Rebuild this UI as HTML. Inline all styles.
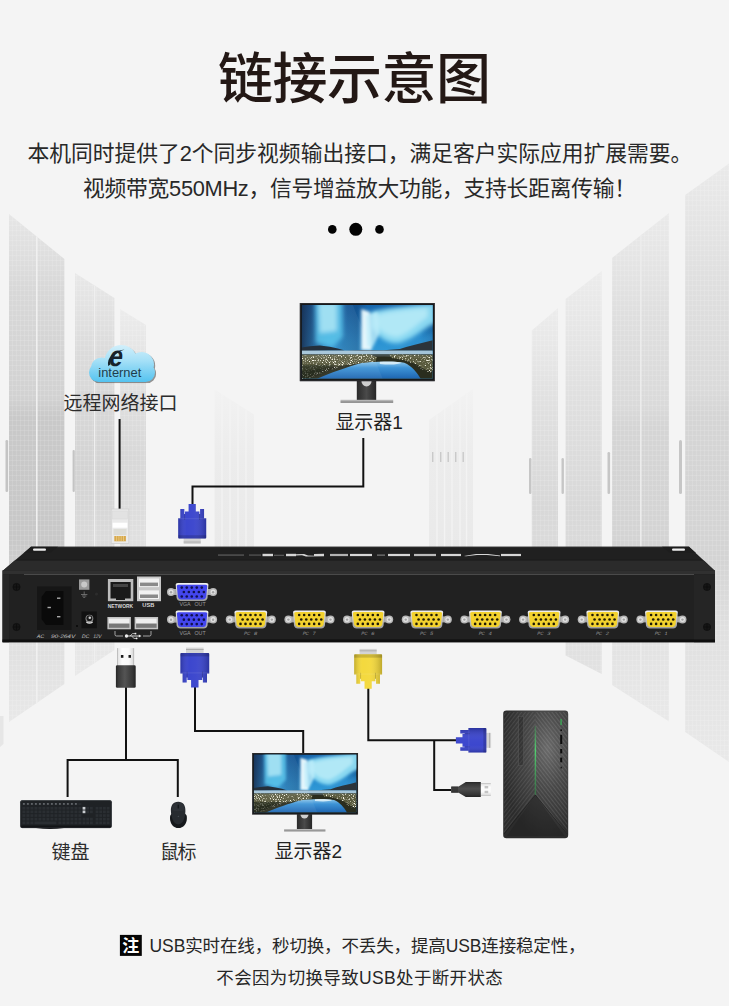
<!DOCTYPE html>
<html lang="zh-CN">
<head>
<meta charset="utf-8">
<title>链接示意图</title>
<style>
html,body{margin:0;padding:0;background:#f4f4f4;}
body{width:729px;height:1006px;overflow:hidden;font-family:"Liberation Sans",sans-serif;}
svg{display:block;}
svg text{font-family:"Liberation Sans","Noto Sans CJK SC",sans-serif;}
</style>
</head>
<body>
<svg width="729" height="1006" viewBox="0 0 729 1006">

<defs>
  <linearGradient id="bgfadeTop" x1="0" y1="0" x2="0" y2="1">
    <stop offset="0" stop-color="#f5f5f5" stop-opacity="1"/>
    <stop offset="1" stop-color="#f5f5f5" stop-opacity="0"/>
  </linearGradient>
  <linearGradient id="bgfadeBot" x1="0" y1="0" x2="0" y2="1">
    <stop offset="0" stop-color="#f5f5f5" stop-opacity="0"/>
    <stop offset="1" stop-color="#f5f5f5" stop-opacity="1"/>
  </linearGradient>
  <linearGradient id="rackL" x1="0" y1="0" x2="1" y2="0">
    <stop offset="0" stop-color="#dcdcdc"/><stop offset="1" stop-color="#e6e6e6"/>
  </linearGradient>
  <linearGradient id="sky" x1="0" y1="0" x2="1" y2="1">
    <stop offset="0" stop-color="#0a3566"/><stop offset="0.5" stop-color="#15639a"/><stop offset="1" stop-color="#2a8cc0"/>
  </linearGradient>
  <linearGradient id="lake" x1="0" y1="0" x2="0" y2="1">
    <stop offset="0" stop-color="#9fd3ee"/><stop offset="1" stop-color="#1f6fb4"/>
  </linearGradient>
  <linearGradient id="cloudg" x1="0" y1="0" x2="0" y2="1">
    <stop offset="0" stop-color="#dff4fc"/><stop offset="0.45" stop-color="#a5e0f7"/><stop offset="1" stop-color="#45bdee"/>
  </linearGradient>
  <linearGradient id="silver" x1="0" y1="0" x2="0" y2="1">
    <stop offset="0" stop-color="#f2f2f2"/><stop offset="0.5" stop-color="#c9c9c9"/><stop offset="1" stop-color="#9a9a9a"/>
  </linearGradient>
  <linearGradient id="neck" x1="0" y1="0" x2="1" y2="0">
    <stop offset="0" stop-color="#2a2a2a"/><stop offset="0.5" stop-color="#4a4a4a"/><stop offset="1" stop-color="#252525"/>
  </linearGradient>
  <radialGradient id="towerg" cx="0.68" cy="0.3" r="0.7">
    <stop offset="0" stop-color="#6a6a6a"/><stop offset="0.45" stop-color="#484848"/><stop offset="1" stop-color="#2c2c2c"/>
  </radialGradient>
  <linearGradient id="greenl" x1="0" y1="0" x2="0" y2="1">
    <stop offset="0" stop-color="#3fae5a" stop-opacity="0.3"/><stop offset="0.35" stop-color="#52d070"/><stop offset="1" stop-color="#2f8f48" stop-opacity="0.5"/>
  </linearGradient>
  <linearGradient id="usbbody" x1="0" y1="0" x2="1" y2="0">
    <stop offset="0" stop-color="#262626"/><stop offset="0.12" stop-color="#3a3a3a"/><stop offset="0.45" stop-color="#545454"/><stop offset="0.85" stop-color="#363636"/><stop offset="1" stop-color="#222"/>
  </linearGradient>
  <linearGradient id="usbbodyH" x1="0" y1="0" x2="0" y2="1">
    <stop offset="0" stop-color="#262626"/><stop offset="0.12" stop-color="#383838"/><stop offset="0.45" stop-color="#4e4e4e"/><stop offset="0.85" stop-color="#343434"/><stop offset="1" stop-color="#222"/>
  </linearGradient>
  <filter id="blur2" x="-20%" y="-20%" width="140%" height="140%"><feGaussianBlur stdDeviation="2.2"/></filter>
  <filter id="blur15" x="-30%" y="-30%" width="160%" height="160%"><feGaussianBlur stdDeviation="1.5"/></filter>
  <filter id="blur1" x="-20%" y="-20%" width="140%" height="140%"><feGaussianBlur stdDeviation="1"/></filter>
  <filter id="blur05" x="-20%" y="-20%" width="140%" height="140%"><feGaussianBlur stdDeviation="0.5"/></filter>
  <clipPath id="scrclip"><rect x="2" y="2" width="131" height="73.4"/></clipPath>

  <!-- monitor symbol: 135 x 100 -->
  <linearGradient id="skyv" x1="0" y1="0" x2="0" y2="1">
    <stop offset="0" stop-color="#1766ad"/><stop offset="0.5" stop-color="#2a92d2"/><stop offset="1" stop-color="#46ace0"/>
  </linearGradient>
  <linearGradient id="skyh" x1="0" y1="0" x2="1" y2="0">
    <stop offset="0" stop-color="#071c3e" stop-opacity="0.85"/><stop offset="0.1" stop-color="#0a2a58" stop-opacity="0.5"/><stop offset="0.2" stop-color="#0a2a58" stop-opacity="0"/>
    <stop offset="0.32" stop-color="#0a2a58" stop-opacity="0.25"/><stop offset="0.42" stop-color="#0a2a58" stop-opacity="0.35"/><stop offset="0.5" stop-color="#0a2a58" stop-opacity="0"/>
    <stop offset="0.9" stop-color="#0a2a58" stop-opacity="0"/><stop offset="1" stop-color="#0a2a58" stop-opacity="0.3"/>
  </linearGradient>
  <linearGradient id="lake2" x1="0" y1="0" x2="0" y2="1">
    <stop offset="0" stop-color="#8cc6ea"/><stop offset="0.35" stop-color="#3d93d6"/><stop offset="1" stop-color="#1d64b0"/>
  </linearGradient>
  <filter id="speck" x="0" y="0" width="100%" height="100%">
    <feTurbulence type="fractalNoise" baseFrequency="0.75" numOctaves="2" seed="7" result="n"/>
    <feColorMatrix in="n" type="matrix" values="0 0 0 0 0.95  0 0 0 0 0.94  0 0 0 0 0.82  3.4 3.4 0 0 -3.52"/>
    <feComposite in2="SourceGraphic" operator="in"/>
  </filter>
  <g id="monitor">
    <rect x="57" y="77" width="19.4" height="20" fill="url(#neck)"/>
    <path d="M61.6 77.8 A5.1 5.6 0 0 0 71.8 77.8 Z" fill="#cfcfcf"/>
    <rect x="40.7" y="96.8" width="52.7" height="1.5" fill="#b5b5b5"/>
    <rect x="40.7" y="98.3" width="52.7" height="1.5" fill="#7d7d7d"/>
    <rect x="0" y="0" width="135" height="78.2" fill="#17181a"/>
    <rect x="0.4" y="0.4" width="134.2" height="77.4" fill="none" stroke="#3a3a3c" stroke-width="0.6"/>
    <g clip-path="url(#scrclip)">
      <rect x="2" y="2" width="131" height="74" fill="url(#skyv)"/>
      <rect x="2" y="2" width="131" height="47" fill="url(#skyh)"/>
      <g filter="url(#blur2)">
        <path d="M15 -2 L43 -2 L43 34 L33 44 L16 40Z" fill="#4fbfe8" opacity="0.9"/>
        <path d="M19 0 L37 0 L37 28 L20 30Z" fill="#a8e4f6" opacity="0.85"/>
        <path d="M71 9 C90 4 112 2 136 0 L136 20 C124 24 118 34 100 40 C88 42 78 34 71 24Z" fill="#8edcf3" opacity="0.95"/>
        <path d="M76 12 C92 8 110 6 128 5 L128 14 C118 20 110 30 98 34 C88 34 80 28 76 22Z" fill="#d2f5fc" opacity="0.55"/>
        <path d="M100 44 L133 30 L133 46Z" fill="#2f8fce" opacity="0.5"/>
      </g>
      <g filter="url(#blur15)">
        <path d="M61.5 6 L70 9 L72 47 L61.5 47Z" fill="#f0fdff" opacity="0.95"/>
        <path d="M66 12 L78 9 L80 30 L73 44 L67 44Z" fill="#bfeefa" opacity="0.8"/>
      </g>
      <path d="M2 44.5 L10 43.2 L20 42.4 L30 43.8 L38 45.6 L45 47.6 L2 47.8Z" fill="#17232e"/>
      <path d="M45 47.8 L62 47 L84 47.3 L100 46 L106.4 44 L116 41.4 L126 39 L133 37.3 L133 47.8Z" fill="#2c343a"/>
      <rect x="2" y="47.6" width="131" height="4" fill="#a3c4d8"/>
      <rect x="2" y="51.3" width="131" height="25" fill="#2a2d1e"/>
      <path d="M2 51.3 H133 V55 L84 53.5 L40 54 L2 56Z" fill="#5a686a" opacity="0.6"/>
      <path d="M16.8 76 C30 70 48 64 61.6 60 C70 58.6 96 58.4 104.5 59.7 C112 63 117 69 121 76Z" fill="url(#lake2)"/>
      <path d="M80 58.8 C88 58.2 98 58.6 102 59.8 C98 61.8 90 62 80 61Z" fill="#e4f4fb" opacity="0.85" filter="url(#blur05)"/>
      <g fill="#6a6b4a" opacity="0.75" filter="url(#blur05)">
        <path d="M2 52 L70 51.6 L77 54 L76 58.2 L58 60.6 L40 63 L20 66 L2 68Z"/>
        <path d="M89.5 51.6 L133 52 L133 68 L126 67 L116 61 L104 57 L92 55Z"/>
      </g>
      <g filter="url(#speck)">
        <path d="M2 52 L70 51.6 L77 54 L76 58.2 L58 60.6 L40 64 L22 70 L8 76 L2 76Z" fill="#fff"/>
        <path d="M89.5 51.6 L133 52 L133 70 L126 69 L116 62 L104 57 L92 55Z" fill="#fff"/>
      </g>
      <path d="M2 62 L38 62 L8 76 L2 76Z" fill="#181b10" opacity="0.7" filter="url(#blur1)"/>
      <path d="M2 2 L53 2 L83 76 L2 76Z" fill="#fff" opacity="0.06"/>
    </g>
  </g>

  <!-- VGA plug, pointing down (cable at top). box 30 x 41, origin at top-left; centre x=15 -->
  <linearGradient id="plugsh" x1="0" y1="0" x2="1" y2="0">
    <stop offset="0" stop-color="#000" stop-opacity="0.2"/><stop offset="0.3" stop-color="#fff" stop-opacity="0.03"/><stop offset="0.55" stop-color="#fff" stop-opacity="0.05"/><stop offset="1" stop-color="#000" stop-opacity="0.22"/>
  </linearGradient>
  <g id="vgaplug">
    <rect x="6.2" y="34" width="17.6" height="6" fill="#d4d4d4"/>
    <rect x="6.2" y="37.6" width="17.6" height="0.9" fill="#a8a8a8"/>
    <path d="M11.3 0 H18.7 V7.5 H22.4 V10 H23.1 V5 H27.2 V14.2 H29.4 V33.5 Q29.4 34.6 28.3 34.6 H1.7 Q0.6 34.6 0.6 33.5 V14.2 H2.8 V5 H6.9 V10 H7.6 V7.5 H11.3Z" fill="currentColor"/>
    <path d="M11.3 0 H18.7 V7.5 H22.4 V10 H23.1 V5 H27.2 V14.2 H29.4 V33.5 Q29.4 34.6 28.3 34.6 H1.7 Q0.6 34.6 0.6 33.5 V14.2 H2.8 V5 H6.9 V10 H7.6 V7.5 H11.3Z" fill="url(#plugsh)"/>
    <rect x="6.9" y="10" width="0.8" height="6" fill="#000" opacity="0.2"/>
    <rect x="22.3" y="10" width="0.8" height="6" fill="#000" opacity="0.2"/>
    <rect x="0.6" y="31.2" width="28.8" height="3.4" fill="#000" opacity="0.16"/>
    <rect x="0.6" y="14.2" width="28.8" height="1" fill="#fff" opacity="0.1"/>
  </g>
</defs>

<rect width="729" height="1006" fill="#f4f4f4"/>

<g id="bgracks">
  <defs>
    <linearGradient id="rk" x1="0" y1="0" x2="0" y2="1">
      <stop offset="0" stop-color="#eaeaea"/><stop offset="0.2" stop-color="#dfdfdf"/><stop offset="0.38" stop-color="#dadada"/><stop offset="0.42" stop-color="#d5d5d5"/><stop offset="0.66" stop-color="#d4d4d4"/><stop offset="0.78" stop-color="#e0e0e0"/><stop offset="1" stop-color="#e9e9e9"/>
    </linearGradient>
    <linearGradient id="rkA" x1="0" y1="0" x2="0" y2="1">
      <stop offset="0" stop-color="#e6e6e6"/><stop offset="0.15" stop-color="#d8d8d8"/><stop offset="0.36" stop-color="#d2d2d2"/><stop offset="0.4" stop-color="#c9c9c9"/><stop offset="0.64" stop-color="#c8c8c8"/><stop offset="0.78" stop-color="#dcdcdc"/><stop offset="1" stop-color="#e8e8e8"/>
    </linearGradient>
    <linearGradient id="rkB" x1="0" y1="0" x2="0" y2="1">
      <stop offset="0" stop-color="#e8e8e8"/><stop offset="0.2" stop-color="#dbdbdb"/><stop offset="0.5" stop-color="#d3d3d3"/><stop offset="0.68" stop-color="#dcdcdc"/><stop offset="1" stop-color="#e9e9e9"/>
    </linearGradient>
    <linearGradient id="rk2" x1="0" y1="0" x2="0" y2="1">
      <stop offset="0" stop-color="#ececec"/><stop offset="0.3" stop-color="#e0e0e0"/><stop offset="0.6" stop-color="#d8d8d8"/><stop offset="1" stop-color="#e2e2e2"/>
    </linearGradient>
    <linearGradient id="rk3" x1="0" y1="0" x2="0" y2="1">
      <stop offset="0" stop-color="#f2f2f2"/><stop offset="0.4" stop-color="#ececec"/><stop offset="1" stop-color="#e9e9e9"/>
    </linearGradient>
    <pattern id="grid" width="4" height="5" patternUnits="userSpaceOnUse">
      <rect width="4" height="5" fill="none"/>
      <rect x="0" y="0" width="4" height="0.9" fill="#fff" opacity="0.12"/>
      <rect x="0" y="0" width="0.9" height="5" fill="#fff" opacity="0.12"/>
    </pattern>
  </defs>
  <!-- left racks -->
  <path d="M0 716 H3.5 V744 L0 747Z" fill="#e6e6e6"/>
  <path d="M9 214 L64.4 259 V684 L9 722Z" fill="url(#rkA)"/>
  <path d="M9 214 L64.4 259 V684 L9 722Z" fill="url(#grid)"/>
  <path d="M36 236 L37.6 237.3 V702.6 L36 703.6Z" fill="#f0f0f0"/>
  <path d="M75 273 L114.4 298 V650 L75 676Z" fill="url(#rkB)"/>
  <path d="M75 273 L114.4 298 V650 L75 676Z" fill="url(#grid)"/>
  <path d="M94 285 L95.2 286 V662.6 L94 663.6Z" fill="#efefef"/>
  <path d="M120 309 L146 325 V560 H120Z" fill="url(#rk2)"/>
  <path d="M120 309 L146 325 V560 H120Z" fill="url(#grid)"/>
  <path d="M214.6 389.5 L254 414.6 V560 H214.6Z" fill="url(#rk3)"/>
  <path d="M222 394 V560 M230 399 V560 M238 404.5 V560 M246 409.5 V560" stroke="#f3f3f3" stroke-width="1.3"/>
  <g fill="#c4c4c4"><rect x="5.5" y="440" width="2.6" height="52" rx="1.2"/><rect x="72.6" y="450" width="2.2" height="42" rx="1.1"/></g>
  <!-- right racks -->
  <path d="M685.2 195 L729 163.5 V762 L685.2 732Z" fill="url(#rk)"/>
  <path d="M685.2 195 L729 163.5 V762 L685.2 732Z" fill="url(#grid)"/>
  <path d="M612 258 L669 213 V721.5 L612 685Z" fill="url(#rk)"/>
  <path d="M612 258 L669 213 V721.5 L612 685Z" fill="url(#grid)"/>
  <path d="M640 236 L641.6 234.8 V704 L640 703Z" fill="#ececec"/>
  <path d="M565.6 299 L601.7 271 V674 L565.6 655.5Z" fill="url(#rk2)"/>
  <path d="M565.6 299 L601.7 271 V674 L565.6 655.5Z" fill="url(#grid)"/>
  <path d="M531.8 330.5 L558 308 V642 H531.8Z" fill="url(#rk2)"/>
  <path d="M531.8 330.5 L558 308 V642 H531.8Z" fill="url(#grid)"/>
  <path d="M429 420 L473 389 V560 H429Z" fill="url(#rk3)"/>
  <path d="M437 414.5 V560 M444.5 409 V560 M452 404 V560 M460 398 V560 M466.5 393.5 V560" stroke="#f3f3f3" stroke-width="1.3"/>
  <g fill="#c6c6c6"><rect x="529" y="458" width="2.4" height="36" rx="1.2"/><rect x="561.5" y="458" width="2.4" height="36" rx="1.2"/><rect x="607.5" y="452" width="2.6" height="42" rx="1.3"/><rect x="679" y="440" width="3" height="54" rx="1.5"/></g>
  <g fill="#c9c9c9"><rect x="432" y="452" width="1.4" height="10"/><rect x="440" y="452" width="1.4" height="10"/><rect x="447.5" y="452" width="1.4" height="10"/><rect x="455" y="452" width="1.4" height="10"/><rect x="462.5" y="452" width="1.4" height="10"/></g>
</g>

<text x="218" y="97.6" font-size="55" font-weight="500" fill="#231815" textLength="273" lengthAdjust="spacing">链接示意图</text>
<text x="27.4" y="161.4" font-size="21.8" fill="#282828" textLength="665" lengthAdjust="spacing">本机同时提供了2个同步视频输出接口，满足客户实际应用扩展需要。</text>
<text x="83" y="196" font-size="21.8" fill="#282828" textLength="553" lengthAdjust="spacing">视频带宽550MHz，信号增益放大功能，支持长距离传输！</text>
<circle cx="332.3" cy="229.4" r="4.3" fill="#030303"/><circle cx="355.8" cy="229.3" r="6.5" fill="#030303"/><circle cx="379.5" cy="229.4" r="4.3" fill="#030303"/>
<g fill="none" stroke="#111" stroke-width="2" stroke-linejoin="miter">
  <path d="M119.6 419 V510"/>
  <path d="M363.3 438 V486.5 H192.5 V505"/>
  <path d="M126 687 V760"/>
  <path d="M67.6 797 V760 H177.8 V797"/>
  <path d="M195 687 V731 H303.2 V753"/>
  <path d="M368.3 688 V740.3 H457"/>
  <path d="M434.2 740.3 V790 H452"/>
</g>
<g id="cloud">
  <defs><clipPath id="cloudclip"><rect x="89" y="363" width="66" height="19" rx="9.5"/><circle cx="101.5" cy="368" r="10.5"/><circle cx="121" cy="361.5" r="16.5"/><circle cx="141.5" cy="364.5" r="12.5"/></clipPath>
  <clipPath id="cloudclip2"><rect x="89" y="363" width="66" height="19" rx="9.5"/><circle cx="101.5" cy="368" r="10.5"/><circle cx="121" cy="361.5" r="16.5"/><circle cx="141.5" cy="364.5" r="12.5"/></clipPath></defs>
  <g transform="translate(1.2,1.2)" opacity="0.55" filter="url(#blur05)"><rect x="86" y="340" width="74" height="46" fill="#444" clip-path="url(#cloudclip2)"/></g>
  <rect x="86" y="340" width="74" height="46" fill="url(#cloudg)" clip-path="url(#cloudclip)"/>
</g>
<text x="98.3" y="376.5" font-size="13" fill="#1d3d4c" textLength="43" lengthAdjust="spacingAndGlyphs">internet</text>
<g id="ie">
  <path d="M108.2 366 C106.5 358 114 350.6 124.5 349.6 C118 351.5 111 357 110.4 364.5Z" fill="#17232b"/>
  <text transform="translate(107.50,365.80) skewX(-10)" x="0.6" y="0" font-size="29" font-weight="bold" fill="#17232b" textLength="13.6" lengthAdjust="spacingAndGlyphs">e</text>
</g>
<text x="63.6" y="410.3" font-size="19" fill="#2c2c2c" textLength="114" lengthAdjust="spacing">远程网络接口</text>
<g id="rj45">
  <rect x="111.2" y="509" width="17.6" height="34.6" fill="#eaeaea" stroke="#d0d0d0" stroke-width="0.8"/>
  <rect x="112.5" y="511" width="15" height="8" fill="#e2e2e2" stroke="#d6d6d6" stroke-width="0.5"/>
  <rect x="112.6" y="522.7" width="14.8" height="5" fill="#fff"/>
  <rect x="113.5" y="529" width="13" height="6" fill="#dcdcd6"/>
  <rect x="114.3" y="536" width="11.6" height="5.3" fill="#d7a84a"/>
  <path d="M116.6 536 V541.3 M118.9 536 V541.3 M121.2 536 V541.3 M123.5 536 V541.3" stroke="#f0d9a0" stroke-width="0.6"/>
</g>
<use href="#vgaplug" transform="translate(177.62,504) scale(0.972,1)" color="#3641cc"/>
<use href="#vgaplug" transform="translate(179.8,687.6) scale(1,-1)" color="#3641cc"/>
<use href="#vgaplug" transform="translate(353.6,688.7) scale(0.969,-0.995)" color="#f4d838"/>
<use href="#vgaplug" transform="translate(455.9,753.1) rotate(-90) scale(0.85,0.88)" color="#3641cc"/>
<use href="#monitor" transform="translate(299.8,303)"/>
<use href="#monitor" transform="translate(252.2,753) scale(0.784,0.786)"/>
<text x="335.4" y="429.4" font-size="19" fill="#222" textLength="67.5" lengthAdjust="spacing">显示器1</text>
<text x="274.6" y="858.4" font-size="19" fill="#222" textLength="67.5" lengthAdjust="spacing">显示器2</text>
<text x="51.4" y="859" font-size="19" fill="#2c2c2c" textLength="38" lengthAdjust="spacing">键盘</text>
<text x="160" y="859" font-size="19" fill="#2c2c2c" textLength="36.5" lengthAdjust="spacing">鼠标</text>
<g id="usbv">
  <defs><linearGradient id="usbmetal" x1="0" y1="0" x2="1" y2="0"><stop offset="0" stop-color="#a9a9a9"/><stop offset="0.08" stop-color="#e6e6e6"/><stop offset="0.3" stop-color="#fdfdfd"/><stop offset="0.7" stop-color="#fafafa"/><stop offset="0.92" stop-color="#dedede"/><stop offset="1" stop-color="#a9a9a9"/></linearGradient>
  <linearGradient id="usbmetalV" x1="0" y1="0" x2="0" y2="1"><stop offset="0" stop-color="#a9a9a9"/><stop offset="0.08" stop-color="#e6e6e6"/><stop offset="0.3" stop-color="#fdfdfd"/><stop offset="0.7" stop-color="#fafafa"/><stop offset="0.92" stop-color="#dedede"/><stop offset="1" stop-color="#a9a9a9"/></linearGradient></defs>
  <rect x="117" y="648.1" width="17.1" height="18" fill="url(#usbmetal)"/>
  <rect x="120.9" y="655" width="2.5" height="2.8" fill="#1c1c1c"/><rect x="128.5" y="655" width="2.5" height="2.8" fill="#1c1c1c"/>
  <rect x="115.9" y="665.3" width="19.8" height="22.4" rx="1.3" fill="url(#usbbody)"/>
</g>
<g id="usbh">
  <rect x="480.4" y="783.4" width="10.4" height="12.2" fill="url(#usbmetalV)"/>
  <rect x="484.6" y="786" width="3.6" height="2.4" fill="#c4c4c4"/><rect x="484.6" y="790.8" width="3.6" height="2.4" fill="#c4c4c4"/>
  <path d="M451 786.4 H458.6 L465.8 782.1 H480.8 V796.9 H465.8 L458.6 792.8 H451Z" fill="url(#usbbodyH)"/>
  <path d="M453 786.4 V792.8 M455 786.4 V792.8 M457 786.4 V792.8" stroke="#1a1a1a" stroke-width="0.7"/>
</g>
<g id="kbd">
<rect x="20.2" y="800.2" width="91.6" height="27.8" rx="2" fill="#1f2225"/>
<rect x="20.5" y="800.5" width="91" height="27.2" rx="1.8" fill="none" stroke="#3b3f44" stroke-width="0.7"/>
<rect x="21" y="825.6" width="90" height="2" rx="1" fill="#121416"/>
<path d="M36 828 Q50 830 64 828Z" fill="#17191b"/>
<rect x="22.4" y="803.2" width="3.0" height="1.7" fill="#2a2e32"/>
<rect x="23.1" y="803.5" width="1.6" height="0.9" fill="#c9ccd0" opacity="0.8"/>
<rect x="26.4" y="803.2" width="3.0" height="1.7" fill="#2a2e32"/>
<rect x="27.1" y="803.5" width="1.6" height="0.9" fill="#c9ccd0" opacity="0.8"/>
<rect x="30.4" y="803.2" width="3.0" height="1.7" fill="#2a2e32"/>
<rect x="31.1" y="803.5" width="1.6" height="0.9" fill="#c9ccd0" opacity="0.8"/>
<rect x="34.4" y="803.2" width="3.0" height="1.7" fill="#2a2e32"/>
<rect x="35.1" y="803.5" width="1.6" height="0.9" fill="#c9ccd0" opacity="0.8"/>
<rect x="38.4" y="803.2" width="3.0" height="1.7" fill="#2a2e32"/>
<rect x="39.1" y="803.5" width="1.6" height="0.9" fill="#c9ccd0" opacity="0.8"/>
<rect x="42.4" y="803.2" width="3.0" height="1.7" fill="#2a2e32"/>
<rect x="43.1" y="803.5" width="1.6" height="0.9" fill="#c9ccd0" opacity="0.8"/>
<rect x="46.4" y="803.2" width="3.0" height="1.7" fill="#2a2e32"/>
<rect x="47.1" y="803.5" width="1.6" height="0.9" fill="#c9ccd0" opacity="0.8"/>
<rect x="50.4" y="803.2" width="3.0" height="1.7" fill="#2a2e32"/>
<rect x="51.1" y="803.5" width="1.6" height="0.9" fill="#c9ccd0" opacity="0.8"/>
<rect x="54.4" y="803.2" width="3.0" height="1.7" fill="#2a2e32"/>
<rect x="55.1" y="803.5" width="1.6" height="0.9" fill="#c9ccd0" opacity="0.8"/>
<rect x="58.4" y="803.2" width="3.0" height="1.7" fill="#2a2e32"/>
<rect x="59.1" y="803.5" width="1.6" height="0.9" fill="#c9ccd0" opacity="0.8"/>
<rect x="62.4" y="803.2" width="3.0" height="1.7" fill="#2a2e32"/>
<rect x="63.1" y="803.5" width="1.6" height="0.9" fill="#c9ccd0" opacity="0.8"/>
<rect x="66.4" y="803.2" width="3.0" height="1.7" fill="#2a2e32"/>
<rect x="67.1" y="803.5" width="1.6" height="0.9" fill="#c9ccd0" opacity="0.8"/>
<rect x="70.4" y="803.2" width="3.0" height="1.7" fill="#2a2e32"/>
<rect x="71.1" y="803.5" width="1.6" height="0.9" fill="#c9ccd0" opacity="0.8"/>
<rect x="74.4" y="803.2" width="3.0" height="1.7" fill="#2a2e32"/>
<rect x="75.1" y="803.5" width="1.6" height="0.9" fill="#c9ccd0" opacity="0.8"/>
<rect x="78.4" y="803.2" width="3.0" height="1.7" fill="#2a2e32"/>
<rect x="22.4" y="806.9" width="3.0" height="2.7" fill="#2a2e32"/>
<rect x="26.4" y="806.9" width="3.0" height="2.7" fill="#2a2e32"/>
<rect x="30.4" y="806.9" width="3.0" height="2.7" fill="#2a2e32"/>
<rect x="34.4" y="806.9" width="3.0" height="2.7" fill="#2a2e32"/>
<rect x="38.4" y="806.9" width="3.0" height="2.7" fill="#2a2e32"/>
<rect x="42.4" y="806.9" width="3.0" height="2.7" fill="#2a2e32"/>
<rect x="46.4" y="806.9" width="3.0" height="2.7" fill="#2a2e32"/>
<rect x="50.4" y="806.9" width="3.0" height="2.7" fill="#2a2e32"/>
<rect x="54.4" y="806.9" width="3.0" height="2.7" fill="#2a2e32"/>
<rect x="58.4" y="806.9" width="3.0" height="2.7" fill="#2a2e32"/>
<rect x="62.4" y="806.9" width="3.0" height="2.7" fill="#2a2e32"/>
<rect x="66.4" y="806.9" width="3.0" height="2.7" fill="#2a2e32"/>
<rect x="70.4" y="806.9" width="3.0" height="2.7" fill="#2a2e32"/>
<rect x="74.4" y="806.9" width="3.0" height="2.7" fill="#2a2e32"/>
<rect x="78.4" y="806.9" width="3.0" height="2.7" fill="#2a2e32"/>
<rect x="82.6" y="806.9" width="2.8" height="2.7" fill="#c9ccd0"/>
<rect x="86.3" y="806.9" width="2.8" height="2.7" fill="#2a2e32"/>
<rect x="90.0" y="806.9" width="2.8" height="2.7" fill="#2a2e32"/>
<rect x="95.6" y="806.9" width="2.8" height="2.7" fill="#2a2e32"/>
<rect x="99.3" y="806.9" width="2.8" height="2.7" fill="#2a2e32"/>
<rect x="103.0" y="806.9" width="2.8" height="2.7" fill="#2a2e32"/>
<rect x="106.7" y="806.9" width="2.8" height="2.7" fill="#2a2e32"/>
<rect x="22.4" y="810.5" width="3.0" height="2.7" fill="#2a2e32"/>
<rect x="26.4" y="810.5" width="3.0" height="2.7" fill="#2a2e32"/>
<rect x="30.4" y="810.5" width="3.0" height="2.7" fill="#2a2e32"/>
<rect x="34.4" y="810.5" width="3.0" height="2.7" fill="#2a2e32"/>
<rect x="38.4" y="810.5" width="3.0" height="2.7" fill="#2a2e32"/>
<rect x="42.4" y="810.5" width="3.0" height="2.7" fill="#2a2e32"/>
<rect x="46.4" y="810.5" width="3.0" height="2.7" fill="#2a2e32"/>
<rect x="50.4" y="810.5" width="3.0" height="2.7" fill="#2a2e32"/>
<rect x="54.4" y="810.5" width="3.0" height="2.7" fill="#2a2e32"/>
<rect x="58.4" y="810.5" width="3.0" height="2.7" fill="#2a2e32"/>
<rect x="62.4" y="810.5" width="3.0" height="2.7" fill="#2a2e32"/>
<rect x="66.4" y="810.5" width="3.0" height="2.7" fill="#2a2e32"/>
<rect x="70.4" y="810.5" width="3.0" height="2.7" fill="#2a2e32"/>
<rect x="74.4" y="810.5" width="3.0" height="2.7" fill="#2a2e32"/>
<rect x="78.4" y="810.5" width="3.0" height="2.7" fill="#2a2e32"/>
<rect x="82.6" y="810.5" width="2.8" height="2.7" fill="#c9ccd0"/>
<rect x="86.3" y="810.5" width="2.8" height="2.7" fill="#2a2e32"/>
<rect x="90.0" y="810.5" width="2.8" height="2.7" fill="#2a2e32"/>
<rect x="95.6" y="810.5" width="2.8" height="2.7" fill="#2a2e32"/>
<rect x="99.3" y="810.5" width="2.8" height="2.7" fill="#2a2e32"/>
<rect x="103.0" y="810.5" width="2.8" height="2.7" fill="#2a2e32"/>
<rect x="106.7" y="810.5" width="2.8" height="2.7" fill="#2a2e32"/>
<rect x="22.4" y="814.2" width="3.0" height="2.7" fill="#2a2e32"/>
<rect x="26.4" y="814.2" width="3.0" height="2.7" fill="#2a2e32"/>
<rect x="30.4" y="814.2" width="3.0" height="2.7" fill="#2a2e32"/>
<rect x="34.4" y="814.2" width="3.0" height="2.7" fill="#2a2e32"/>
<rect x="38.4" y="814.2" width="3.0" height="2.7" fill="#2a2e32"/>
<rect x="42.4" y="814.2" width="3.0" height="2.7" fill="#2a2e32"/>
<rect x="46.4" y="814.2" width="3.0" height="2.7" fill="#2a2e32"/>
<rect x="50.4" y="814.2" width="3.0" height="2.7" fill="#2a2e32"/>
<rect x="54.4" y="814.2" width="3.0" height="2.7" fill="#2a2e32"/>
<rect x="58.4" y="814.2" width="3.0" height="2.7" fill="#2a2e32"/>
<rect x="62.4" y="814.2" width="3.0" height="2.7" fill="#2a2e32"/>
<rect x="66.4" y="814.2" width="3.0" height="2.7" fill="#2a2e32"/>
<rect x="70.4" y="814.2" width="3.0" height="2.7" fill="#2a2e32"/>
<rect x="74.4" y="814.2" width="3.0" height="2.7" fill="#2a2e32"/>
<rect x="78.4" y="814.2" width="3.0" height="2.7" fill="#2a2e32"/>
<rect x="95.6" y="814.2" width="2.8" height="2.7" fill="#2a2e32"/>
<rect x="99.3" y="814.2" width="2.8" height="2.7" fill="#2a2e32"/>
<rect x="103.0" y="814.2" width="2.8" height="2.7" fill="#2a2e32"/>
<rect x="106.7" y="814.2" width="2.8" height="2.7" fill="#2a2e32"/>
<rect x="22.4" y="817.8" width="3.0" height="2.7" fill="#2a2e32"/>
<rect x="26.4" y="817.8" width="3.0" height="2.7" fill="#2a2e32"/>
<rect x="30.4" y="817.8" width="3.0" height="2.7" fill="#2a2e32"/>
<rect x="34.4" y="817.8" width="3.0" height="2.7" fill="#2a2e32"/>
<rect x="38.4" y="817.8" width="3.0" height="2.7" fill="#2a2e32"/>
<rect x="42.4" y="817.8" width="3.0" height="2.7" fill="#2a2e32"/>
<rect x="46.4" y="817.8" width="3.0" height="2.7" fill="#2a2e32"/>
<rect x="50.4" y="817.8" width="3.0" height="2.7" fill="#2a2e32"/>
<rect x="54.4" y="817.8" width="3.0" height="2.7" fill="#2a2e32"/>
<rect x="58.4" y="817.8" width="3.0" height="2.7" fill="#2a2e32"/>
<rect x="62.4" y="817.8" width="3.0" height="2.7" fill="#2a2e32"/>
<rect x="66.4" y="817.8" width="3.0" height="2.7" fill="#2a2e32"/>
<rect x="70.4" y="817.8" width="3.0" height="2.7" fill="#2a2e32"/>
<rect x="74.4" y="817.8" width="3.0" height="2.7" fill="#2a2e32"/>
<rect x="78.4" y="817.8" width="3.0" height="2.7" fill="#2a2e32"/>
<rect x="82.6" y="817.8" width="2.8" height="2.7" fill="#2a2e32"/>
<rect x="86.3" y="817.8" width="2.8" height="2.7" fill="#2a2e32"/>
<rect x="90.0" y="817.8" width="2.8" height="2.7" fill="#2a2e32"/>
<rect x="95.6" y="817.8" width="2.8" height="2.7" fill="#2a2e32"/>
<rect x="99.3" y="817.8" width="2.8" height="2.7" fill="#2a2e32"/>
<rect x="103.0" y="817.8" width="2.8" height="2.7" fill="#2a2e32"/>
<rect x="106.7" y="817.8" width="2.8" height="2.7" fill="#2a2e32"/>
<rect x="22.4" y="821.5" width="3.0" height="2.7" fill="#2a2e32"/>
<rect x="26.4" y="821.5" width="3.0" height="2.7" fill="#2a2e32"/>
<rect x="30.4" y="821.5" width="3.0" height="2.7" fill="#2a2e32"/>
<rect x="34.4" y="821.5" width="22" height="2.7" fill="#2a2e32"/>
<rect x="58.4" y="821.5" width="3.0" height="2.7" fill="#2a2e32"/>
<rect x="62.4" y="821.5" width="3.0" height="2.7" fill="#2a2e32"/>
<rect x="66.4" y="821.5" width="3.0" height="2.7" fill="#2a2e32"/>
<rect x="70.4" y="821.5" width="3.0" height="2.7" fill="#2a2e32"/>
<rect x="74.4" y="821.5" width="3.0" height="2.7" fill="#2a2e32"/>
<rect x="78.4" y="821.5" width="3.0" height="2.7" fill="#2a2e32"/>
<rect x="82.6" y="821.5" width="2.8" height="2.7" fill="#2a2e32"/>
<rect x="86.3" y="821.5" width="2.8" height="2.7" fill="#2a2e32"/>
<rect x="90.0" y="821.5" width="2.8" height="2.7" fill="#2a2e32"/>
<rect x="95.6" y="821.5" width="2.8" height="2.7" fill="#2a2e32"/>
<rect x="99.3" y="821.5" width="2.8" height="2.7" fill="#2a2e32"/>
<rect x="103.0" y="821.5" width="2.8" height="2.7" fill="#2a2e32"/>
<rect x="106.7" y="821.5" width="2.8" height="2.7" fill="#2a2e32"/>
</g>
<g id="mouse">
  <path d="M170 818 C170 814 172 812.6 178.4 812.6 C184.8 812.6 186.9 814 186.9 818 C186.9 824 183.4 828.1 178.4 828.1 C173.4 828.1 170 824 170 818Z" fill="#15181b"/>
  <path d="M178.2 801.8 C183.4 801.8 185.6 805.6 185.4 811 C185.2 818 183 824.4 178.3 824.4 C173.6 824.4 171.2 818 170.9 811 C170.7 805.6 173 801.8 178.2 801.8Z" fill="#272b30"/>
  <path d="M178.2 802.6 C182.4 802.6 184.4 805.6 184.4 810 C182 811.6 174.4 811.6 172 810 C172 805.6 174 802.6 178.2 802.6Z" fill="#30353a" opacity="0.7"/>
  <rect x="177.6" y="804.4" width="1.3" height="4.2" rx="0.65" fill="#14171a"/>
  <circle cx="178.3" cy="816.4" r="0.6" fill="#4a5056"/>
</g>
<g id="tower">
  <defs>
    <pattern id="hatchL" width="3" height="3" patternUnits="userSpaceOnUse" patternTransform="rotate(-52)"><rect width="3" height="1" fill="#fff" opacity="0.09"/></pattern>
    <pattern id="hatchR" width="3" height="3" patternUnits="userSpaceOnUse" patternTransform="rotate(52)"><rect width="3" height="1" fill="#fff" opacity="0.11"/></pattern>
  </defs>
  <rect x="503.2" y="710.6" width="65" height="127.6" rx="3.2" fill="url(#towerg)"/>
  <path d="M504 712 H535.3 V795 L504 834Z" fill="url(#hatchL)"/>
  <path d="M535.3 712 H567.4 V834 L535.3 795Z" fill="url(#hatchR)"/>
  <path d="M535.3 795 L507 836 H564.5Z" fill="#1e1e1e" opacity="0.4"/>
  <path d="M535.3 795 L504 834 M535.3 795 L567.4 834" stroke="#1a1a1a" stroke-width="0.8" opacity="0.7" fill="none"/>
  <rect x="518.5" y="716.2" width="5.2" height="49" fill="#000" fill-opacity="0.18" stroke="#5a5a5a" stroke-width="0.5"/>
  <rect x="534.7" y="726" width="1.4" height="69" fill="url(#greenl)"/>
  <rect x="560.3" y="719" width="1.6" height="6" fill="#3f9c55"/>
  <circle cx="561.2" cy="730.2" r="0.9" fill="#0c0c0c"/>
  <rect x="560.2" y="734.8" width="2" height="9.2" fill="#0c0c0c"/>
  <rect x="560.2" y="749" width="2" height="4.4" fill="#0c0c0c"/>
  <rect x="560.2" y="757.6" width="2" height="4.7" fill="#0c0c0c"/>
  <rect x="560.6" y="766.8" width="1.2" height="1.6" fill="#0c0c0c"/>
</g>
<g id="kvm">
<path d="M31 546.7 H689 L715 571 H2.5 Z" fill="#202020"/>
<path d="M31 546.7 H689 L690 547.6 H30 Z" fill="#343434"/>
<path d="M31 546.7 L58 546.7 L50 553 L24 553Z" fill="#1d1d1d"/>
<rect x="33" y="548.6" width="13" height="2.2" rx="1.1" fill="#eee"/>
<path d="M662 546.7 H689 L696 553 H670Z" fill="#1d1d1d"/>
<rect x="672" y="548.6" width="13" height="2.2" rx="1.1" fill="#eee"/>
<g fill="#d6d6d6" filter="url(#blur05)"><rect x="218" y="554.6" width="26" height="0.9" opacity="0.45"/><rect x="249" y="554.6" width="12" height="0.9" opacity="0.4"/><rect x="262.5" y="553.8" width="10.5" height="2.4"/><rect x="274" y="554.8" width="10" height="0.8" opacity="0.5"/><rect x="286" y="553.8" width="10" height="2.4"/><path d="M296 554.2 L304 554 L308 555.6 L314 555.8 L314 554 L324 553.8 L324 556.2 L306 556.4 L302 555.2 L296 555.4Z"/><rect x="330" y="553.9" width="18" height="2.2" opacity="0.8"/><rect x="350" y="553.9" width="22" height="2.2"/><rect x="377" y="554.6" width="8" height="1" opacity="0.6"/><rect x="388" y="553.9" width="22" height="2.2"/><rect x="414" y="553.9" width="22" height="2.2" opacity="0.85"/><rect x="441" y="553.9" width="20" height="2.2"/><path d="M464 556.1 L476 553.9 L488 553.9 L500 555.4 L500 556.3 L487 554.9 L477 554.9 L466 556.3Z"/><rect x="501" y="553.9" width="20" height="2.2"/></g>
<rect x="15.6" y="559.8" width="687.4" height="0.8" fill="#111" opacity="0.7"/>
<path d="M14.7 560.6 H703.9 L715 571 H2.5Z" fill="#2b2b2b"/>
<rect x="2.5" y="570.6" width="712.5" height="71.6" fill="#1f1f1f"/>
<rect x="2.5" y="570.6" width="712.5" height="3.6" fill="#303030"/>
<rect x="24" y="574" width="670" height="1" fill="#4a4a4a"/>
<rect x="2.5" y="574.2" width="6.5" height="68" fill="#272727"/>
<rect x="694" y="574.2" width="21" height="68" fill="#252525"/>
<rect x="9" y="575" width="685" height="64.5" fill="#212121"/>
<rect x="2.5" y="639.5" width="712.5" height="2.8" fill="#0e0e0e"/>
<circle cx="16.5" cy="587" r="3.6" fill="#161616" stroke="#0a0a0a" stroke-width="0.6"/><path d="M13.5 587 h6 M16.5 584 v6" stroke="#0a0a0a" stroke-width="0.6"/>
<circle cx="16.5" cy="627" r="3.6" fill="#161616" stroke="#0a0a0a" stroke-width="0.6"/><path d="M13.5 627 h6 M16.5 624 v6" stroke="#0a0a0a" stroke-width="0.6"/>
<circle cx="707" cy="587" r="3.6" fill="#161616" stroke="#0a0a0a" stroke-width="0.6"/><path d="M704 587 h6 M707 584 v6" stroke="#0a0a0a" stroke-width="0.6"/>
<circle cx="707" cy="627" r="3.6" fill="#161616" stroke="#0a0a0a" stroke-width="0.6"/><path d="M704 627 h6 M707 624 v6" stroke="#0a0a0a" stroke-width="0.6"/>
<rect x="37" y="586.4" width="34.6" height="43.6" fill="#161616"/>
<path d="M46 591 H63.5 V625 H46 L41.5 619 V597Z" fill="#0a0a0a"/>
<rect x="57" y="597.5" width="3.4" height="1.4" fill="#aaa"/><rect x="47.5" y="606.8" width="3.4" height="1.4" fill="#aaa"/><rect x="57" y="616" width="3.4" height="1.4" fill="#aaa"/>
<rect x="79" y="579.4" width="10.4" height="10.4" fill="#9a9a9a"/><circle cx="84.2" cy="584.6" r="3" fill="#c8c8c8"/>
<path d="M84.2 591.5 v3 M81 594.5 h6.4 M82 596 h4.4 M83.2 597.4 h2" stroke="#999" stroke-width="0.6"/>
<circle cx="96.5" cy="594" r="1.6" fill="#2c2c2c"/>
<rect x="81.5" y="611.5" width="15.3" height="16.8" fill="#111"/><circle cx="89.4" cy="618.6" r="3.9" fill="#8c8c8c"/><circle cx="89.4" cy="618.2" r="2.9" fill="#1a1a1a"/><circle cx="89.8" cy="617.8" r="1.3" fill="#cfcfcf"/><path d="M86 622.6 Q89.4 625 93 622.6 L92.4 621.4 Q89.4 623.2 86.6 621.4Z" fill="#e0e0e0"/>
<circle cx="77" cy="626" r="0.9" fill="#050505"/>
<rect x="107.9" y="579" width="25.4" height="22.2" fill="#bdbdbd"/>
<path d="M110.5 582 H130.7 V598.5 H125 V600 H116 V598.5 H110.5Z" fill="#1a1a1a"/>
<rect x="113" y="584" width="15" height="3" fill="#444"/>
<rect x="137" y="576.5" width="24" height="24.7" fill="#c9c9c9"/>
<rect x="139" y="578.5" width="20" height="8.6" fill="#f2f2f2"/><rect x="139" y="590.4" width="20" height="8.6" fill="#f2f2f2"/>
<rect x="140" y="582.6" width="18" height="3.5" fill="#8a8a8a"/><rect x="140" y="594.5" width="18" height="3.5" fill="#8a8a8a"/>
<rect x="107.4" y="617" width="23.5" height="12.3" fill="#c4c4c4"/>
<rect x="108.9" y="618.6" width="20.5" height="5" fill="#eee"/>
<rect x="108.9" y="623.6" width="20.5" height="4.2" fill="#777"/>
<rect x="134.6" y="617" width="23.5" height="12.3" fill="#c4c4c4"/>
<rect x="136.1" y="618.6" width="20.5" height="5" fill="#eee"/>
<rect x="136.1" y="623.6" width="20.5" height="4.2" fill="#777"/>
<text x="107.7" y="607.7" font-size="4.7" font-weight="bold" fill="#d8d8d8" textLength="25.5" lengthAdjust="spacingAndGlyphs">NETWORK</text>
<text x="142.3" y="606.9" font-size="4.9" font-weight="bold" fill="#d8d8d8" textLength="12" lengthAdjust="spacingAndGlyphs">USB</text>
<text transform="translate(36.60,637.60) skewX(-14)" x="0" y="0" font-size="5.1" fill="#c8c8c8" textLength="7.2" lengthAdjust="spacingAndGlyphs">AC</text>
<text transform="translate(50.40,637.60) skewX(-14)" x="0.3" y="0" font-size="5.1" fill="#c8c8c8" textLength="24.3" lengthAdjust="spacingAndGlyphs">90-264V</text>
<text transform="translate(81.00,637.60) skewX(-14)" x="0.5" y="0" font-size="5.1" fill="#c8c8c8" textLength="7.3" lengthAdjust="spacingAndGlyphs">DC</text>
<text transform="translate(92.60,637.60) skewX(-14)" x="0.4" y="0" font-size="5.1" fill="#c8c8c8" textLength="8.2" lengthAdjust="spacingAndGlyphs">12V</text>
<path d="M115 631 V634.6 Q115 636 116.5 636 H123" fill="none" stroke="#ddd" stroke-width="0.7"/>
<path d="M151 631 V634.6 Q151 636 149.5 636 H143" fill="none" stroke="#ddd" stroke-width="0.7"/>
<circle cx="126.5" cy="636" r="1.7" fill="#eee"/><path d="M128 636 H139.5" stroke="#eee" stroke-width="0.9"/><path d="M141.5 636 L138.8 634.6 V637.4Z" fill="#eee"/><path d="M130 636 L132.5 633.6 H135 M131.5 636 L134 638.4 H136" fill="none" stroke="#eee" stroke-width="0.7"/><rect x="134.7" y="632.8" width="1.6" height="1.6" fill="#eee"/><circle cx="136.6" cy="638.4" r="0.9" fill="#eee"/>
<rect x="171.1" y="589.0" width="42" height="6" fill="#a8a8a8"/><circle cx="171.00" cy="592.0" r="4" fill="#b8b8b8"/><circle cx="171.00" cy="592.0" r="2.5" fill="#e2e2e2"/><circle cx="171.00" cy="592.2" r="1.2" fill="#a4a4a4"/><circle cx="213.10" cy="592.0" r="4" fill="#b8b8b8"/><circle cx="213.10" cy="592.0" r="2.5" fill="#e2e2e2"/><circle cx="213.10" cy="592.2" r="1.2" fill="#a4a4a4"/><path d="M178.05 583.00 H206.05 Q209.05 583.00 208.30 586.00 L207.50 598.00 Q206.75 601.00 203.75 601.00 H180.35 Q177.35 601.00 176.60 598.00 L175.80 586.00 Q175.05 583.00 178.05 583.00 Z" fill="url(#silver)"/><path d="M178.75 584.70 H205.35 Q207.75 584.70 207.15 587.10 L206.15 597.10 Q205.55 599.50 203.15 599.50 H180.95 Q178.55 599.50 177.95 597.10 L176.95 587.10 Q176.35 584.70 178.75 584.70 Z" fill="#4346ee"/><circle cx="181.75" cy="587.60" r="1.3" fill="#11114e"/><circle cx="186.75" cy="587.60" r="1.3" fill="#11114e"/><circle cx="191.75" cy="587.60" r="1.3" fill="#11114e"/><circle cx="196.75" cy="587.60" r="1.3" fill="#11114e"/><circle cx="201.75" cy="587.60" r="1.3" fill="#11114e"/><circle cx="183.85" cy="592.05" r="1.3" fill="#11114e"/><circle cx="188.85" cy="592.05" r="1.3" fill="#11114e"/><circle cx="193.85" cy="592.05" r="1.3" fill="#11114e"/><circle cx="198.85" cy="592.05" r="1.3" fill="#11114e"/><circle cx="203.85" cy="592.05" r="1.3" fill="#11114e"/><circle cx="181.75" cy="596.50" r="1.3" fill="#11114e"/><circle cx="186.75" cy="596.50" r="1.3" fill="#11114e"/><circle cx="191.75" cy="596.50" r="1.3" fill="#11114e"/><circle cx="196.75" cy="596.50" r="1.3" fill="#11114e"/><circle cx="201.75" cy="596.50" r="1.3" fill="#11114e"/>
<rect x="171.1" y="616.6" width="42" height="6" fill="#a8a8a8"/><circle cx="171.00" cy="619.6" r="4" fill="#b8b8b8"/><circle cx="171.00" cy="619.6" r="2.5" fill="#e2e2e2"/><circle cx="171.00" cy="619.8" r="1.2" fill="#a4a4a4"/><circle cx="213.10" cy="619.6" r="4" fill="#b8b8b8"/><circle cx="213.10" cy="619.6" r="2.5" fill="#e2e2e2"/><circle cx="213.10" cy="619.8" r="1.2" fill="#a4a4a4"/><path d="M178.05 610.60 H206.05 Q209.05 610.60 208.30 613.60 L207.50 625.60 Q206.75 628.60 203.75 628.60 H180.35 Q177.35 628.60 176.60 625.60 L175.80 613.60 Q175.05 610.60 178.05 610.60 Z" fill="url(#silver)"/><path d="M178.75 612.30 H205.35 Q207.75 612.30 207.15 614.70 L206.15 624.70 Q205.55 627.10 203.15 627.10 H180.95 Q178.55 627.10 177.95 624.70 L176.95 614.70 Q176.35 612.30 178.75 612.30 Z" fill="#4346ee"/><circle cx="181.75" cy="615.20" r="1.3" fill="#11114e"/><circle cx="186.75" cy="615.20" r="1.3" fill="#11114e"/><circle cx="191.75" cy="615.20" r="1.3" fill="#11114e"/><circle cx="196.75" cy="615.20" r="1.3" fill="#11114e"/><circle cx="201.75" cy="615.20" r="1.3" fill="#11114e"/><circle cx="183.85" cy="619.65" r="1.3" fill="#11114e"/><circle cx="188.85" cy="619.65" r="1.3" fill="#11114e"/><circle cx="193.85" cy="619.65" r="1.3" fill="#11114e"/><circle cx="198.85" cy="619.65" r="1.3" fill="#11114e"/><circle cx="203.85" cy="619.65" r="1.3" fill="#11114e"/><circle cx="181.75" cy="624.10" r="1.3" fill="#11114e"/><circle cx="186.75" cy="624.10" r="1.3" fill="#11114e"/><circle cx="191.75" cy="624.10" r="1.3" fill="#11114e"/><circle cx="196.75" cy="624.10" r="1.3" fill="#11114e"/><circle cx="201.75" cy="624.10" r="1.3" fill="#11114e"/>
<rect x="229.8" y="616.4" width="42" height="6" fill="#a8a8a8"/><circle cx="229.75" cy="619.4" r="4" fill="#b8b8b8"/><circle cx="229.75" cy="619.4" r="2.5" fill="#e2e2e2"/><circle cx="229.75" cy="619.6" r="1.2" fill="#a4a4a4"/><circle cx="271.85" cy="619.4" r="4" fill="#b8b8b8"/><circle cx="271.85" cy="619.4" r="2.5" fill="#e2e2e2"/><circle cx="271.85" cy="619.6" r="1.2" fill="#a4a4a4"/><path d="M236.80 610.40 H264.80 Q267.80 610.40 267.05 613.40 L266.25 625.40 Q265.50 628.40 262.50 628.40 H239.10 Q236.10 628.40 235.35 625.40 L234.55 613.40 Q233.80 610.40 236.80 610.40 Z" fill="url(#silver)"/><path d="M237.50 612.10 H264.10 Q266.50 612.10 265.90 614.50 L264.90 624.50 Q264.30 626.90 261.90 626.90 H239.70 Q237.30 626.90 236.70 624.50 L235.70 614.50 Q235.10 612.10 237.50 612.10 Z" fill="#f3d22e"/><circle cx="240.50" cy="615.00" r="1.3" fill="#1e1905"/><circle cx="245.50" cy="615.00" r="1.3" fill="#1e1905"/><circle cx="250.50" cy="615.00" r="1.3" fill="#1e1905"/><circle cx="255.50" cy="615.00" r="1.3" fill="#1e1905"/><circle cx="260.50" cy="615.00" r="1.3" fill="#1e1905"/><circle cx="242.60" cy="619.45" r="1.3" fill="#1e1905"/><circle cx="247.60" cy="619.45" r="1.3" fill="#1e1905"/><circle cx="252.60" cy="619.45" r="1.3" fill="#1e1905"/><circle cx="257.60" cy="619.45" r="1.3" fill="#1e1905"/><circle cx="262.60" cy="619.45" r="1.3" fill="#1e1905"/><circle cx="240.50" cy="623.90" r="1.3" fill="#1e1905"/><circle cx="245.50" cy="623.90" r="1.3" fill="#1e1905"/><circle cx="250.50" cy="623.90" r="1.3" fill="#1e1905"/><circle cx="255.50" cy="623.90" r="1.3" fill="#1e1905"/><circle cx="260.50" cy="623.90" r="1.3" fill="#1e1905"/>
<text transform="translate(243.40,635.20) skewX(-14)" x="0.4" y="0" font-size="4.7" fill="#9c9c9c" textLength="6" lengthAdjust="spacingAndGlyphs">PC</text>
<text transform="translate(253.40,635.20) skewX(-14)" x="0.3" y="0" font-size="4.7" fill="#9c9c9c" textLength="3.1" lengthAdjust="spacingAndGlyphs">8</text>
<rect x="288.5" y="616.4" width="42" height="6" fill="#a8a8a8"/><circle cx="288.41" cy="619.4" r="4" fill="#b8b8b8"/><circle cx="288.41" cy="619.4" r="2.5" fill="#e2e2e2"/><circle cx="288.41" cy="619.6" r="1.2" fill="#a4a4a4"/><circle cx="330.51" cy="619.4" r="4" fill="#b8b8b8"/><circle cx="330.51" cy="619.4" r="2.5" fill="#e2e2e2"/><circle cx="330.51" cy="619.6" r="1.2" fill="#a4a4a4"/><path d="M295.46 610.40 H323.46 Q326.46 610.40 325.71 613.40 L324.91 625.40 Q324.16 628.40 321.16 628.40 H297.76 Q294.76 628.40 294.01 625.40 L293.21 613.40 Q292.46 610.40 295.46 610.40 Z" fill="url(#silver)"/><path d="M296.16 612.10 H322.76 Q325.16 612.10 324.56 614.50 L323.56 624.50 Q322.96 626.90 320.56 626.90 H298.36 Q295.96 626.90 295.36 624.50 L294.36 614.50 Q293.76 612.10 296.16 612.10 Z" fill="#f3d22e"/><circle cx="299.16" cy="615.00" r="1.3" fill="#1e1905"/><circle cx="304.16" cy="615.00" r="1.3" fill="#1e1905"/><circle cx="309.16" cy="615.00" r="1.3" fill="#1e1905"/><circle cx="314.16" cy="615.00" r="1.3" fill="#1e1905"/><circle cx="319.16" cy="615.00" r="1.3" fill="#1e1905"/><circle cx="301.26" cy="619.45" r="1.3" fill="#1e1905"/><circle cx="306.26" cy="619.45" r="1.3" fill="#1e1905"/><circle cx="311.26" cy="619.45" r="1.3" fill="#1e1905"/><circle cx="316.26" cy="619.45" r="1.3" fill="#1e1905"/><circle cx="321.26" cy="619.45" r="1.3" fill="#1e1905"/><circle cx="299.16" cy="623.90" r="1.3" fill="#1e1905"/><circle cx="304.16" cy="623.90" r="1.3" fill="#1e1905"/><circle cx="309.16" cy="623.90" r="1.3" fill="#1e1905"/><circle cx="314.16" cy="623.90" r="1.3" fill="#1e1905"/><circle cx="319.16" cy="623.90" r="1.3" fill="#1e1905"/>
<text transform="translate(302.06,635.20) skewX(-14)" x="0.4" y="0" font-size="4.7" fill="#9c9c9c" textLength="6" lengthAdjust="spacingAndGlyphs">PC</text>
<text transform="translate(312.06,635.20) skewX(-14)" x="0.3" y="0" font-size="4.7" fill="#9c9c9c" textLength="3.1" lengthAdjust="spacingAndGlyphs">7</text>
<rect x="347.1" y="616.4" width="42" height="6" fill="#a8a8a8"/><circle cx="347.07" cy="619.4" r="4" fill="#b8b8b8"/><circle cx="347.07" cy="619.4" r="2.5" fill="#e2e2e2"/><circle cx="347.07" cy="619.6" r="1.2" fill="#a4a4a4"/><circle cx="389.17" cy="619.4" r="4" fill="#b8b8b8"/><circle cx="389.17" cy="619.4" r="2.5" fill="#e2e2e2"/><circle cx="389.17" cy="619.6" r="1.2" fill="#a4a4a4"/><path d="M354.12 610.40 H382.12 Q385.12 610.40 384.37 613.40 L383.57 625.40 Q382.82 628.40 379.82 628.40 H356.42 Q353.42 628.40 352.67 625.40 L351.87 613.40 Q351.12 610.40 354.12 610.40 Z" fill="url(#silver)"/><path d="M354.82 612.10 H381.42 Q383.82 612.10 383.22 614.50 L382.22 624.50 Q381.62 626.90 379.22 626.90 H357.02 Q354.62 626.90 354.02 624.50 L353.02 614.50 Q352.42 612.10 354.82 612.10 Z" fill="#f3d22e"/><circle cx="357.82" cy="615.00" r="1.3" fill="#1e1905"/><circle cx="362.82" cy="615.00" r="1.3" fill="#1e1905"/><circle cx="367.82" cy="615.00" r="1.3" fill="#1e1905"/><circle cx="372.82" cy="615.00" r="1.3" fill="#1e1905"/><circle cx="377.82" cy="615.00" r="1.3" fill="#1e1905"/><circle cx="359.92" cy="619.45" r="1.3" fill="#1e1905"/><circle cx="364.92" cy="619.45" r="1.3" fill="#1e1905"/><circle cx="369.92" cy="619.45" r="1.3" fill="#1e1905"/><circle cx="374.92" cy="619.45" r="1.3" fill="#1e1905"/><circle cx="379.92" cy="619.45" r="1.3" fill="#1e1905"/><circle cx="357.82" cy="623.90" r="1.3" fill="#1e1905"/><circle cx="362.82" cy="623.90" r="1.3" fill="#1e1905"/><circle cx="367.82" cy="623.90" r="1.3" fill="#1e1905"/><circle cx="372.82" cy="623.90" r="1.3" fill="#1e1905"/><circle cx="377.82" cy="623.90" r="1.3" fill="#1e1905"/>
<text transform="translate(360.72,635.20) skewX(-14)" x="0.4" y="0" font-size="4.7" fill="#9c9c9c" textLength="6" lengthAdjust="spacingAndGlyphs">PC</text>
<text transform="translate(370.72,635.20) skewX(-14)" x="0.3" y="0" font-size="4.7" fill="#9c9c9c" textLength="3.1" lengthAdjust="spacingAndGlyphs">6</text>
<rect x="405.8" y="616.4" width="42" height="6" fill="#a8a8a8"/><circle cx="405.73" cy="619.4" r="4" fill="#b8b8b8"/><circle cx="405.73" cy="619.4" r="2.5" fill="#e2e2e2"/><circle cx="405.73" cy="619.6" r="1.2" fill="#a4a4a4"/><circle cx="447.83" cy="619.4" r="4" fill="#b8b8b8"/><circle cx="447.83" cy="619.4" r="2.5" fill="#e2e2e2"/><circle cx="447.83" cy="619.6" r="1.2" fill="#a4a4a4"/><path d="M412.78 610.40 H440.78 Q443.78 610.40 443.03 613.40 L442.23 625.40 Q441.48 628.40 438.48 628.40 H415.08 Q412.08 628.40 411.33 625.40 L410.53 613.40 Q409.78 610.40 412.78 610.40 Z" fill="url(#silver)"/><path d="M413.48 612.10 H440.08 Q442.48 612.10 441.88 614.50 L440.88 624.50 Q440.28 626.90 437.88 626.90 H415.68 Q413.28 626.90 412.68 624.50 L411.68 614.50 Q411.08 612.10 413.48 612.10 Z" fill="#f3d22e"/><circle cx="416.48" cy="615.00" r="1.3" fill="#1e1905"/><circle cx="421.48" cy="615.00" r="1.3" fill="#1e1905"/><circle cx="426.48" cy="615.00" r="1.3" fill="#1e1905"/><circle cx="431.48" cy="615.00" r="1.3" fill="#1e1905"/><circle cx="436.48" cy="615.00" r="1.3" fill="#1e1905"/><circle cx="418.58" cy="619.45" r="1.3" fill="#1e1905"/><circle cx="423.58" cy="619.45" r="1.3" fill="#1e1905"/><circle cx="428.58" cy="619.45" r="1.3" fill="#1e1905"/><circle cx="433.58" cy="619.45" r="1.3" fill="#1e1905"/><circle cx="438.58" cy="619.45" r="1.3" fill="#1e1905"/><circle cx="416.48" cy="623.90" r="1.3" fill="#1e1905"/><circle cx="421.48" cy="623.90" r="1.3" fill="#1e1905"/><circle cx="426.48" cy="623.90" r="1.3" fill="#1e1905"/><circle cx="431.48" cy="623.90" r="1.3" fill="#1e1905"/><circle cx="436.48" cy="623.90" r="1.3" fill="#1e1905"/>
<text transform="translate(419.38,635.20) skewX(-14)" x="0.4" y="0" font-size="4.7" fill="#9c9c9c" textLength="6" lengthAdjust="spacingAndGlyphs">PC</text>
<text transform="translate(429.38,635.20) skewX(-14)" x="0.3" y="0" font-size="4.7" fill="#9c9c9c" textLength="3.1" lengthAdjust="spacingAndGlyphs">5</text>
<rect x="464.4" y="616.4" width="42" height="6" fill="#a8a8a8"/><circle cx="464.39" cy="619.4" r="4" fill="#b8b8b8"/><circle cx="464.39" cy="619.4" r="2.5" fill="#e2e2e2"/><circle cx="464.39" cy="619.6" r="1.2" fill="#a4a4a4"/><circle cx="506.49" cy="619.4" r="4" fill="#b8b8b8"/><circle cx="506.49" cy="619.4" r="2.5" fill="#e2e2e2"/><circle cx="506.49" cy="619.6" r="1.2" fill="#a4a4a4"/><path d="M471.44 610.40 H499.44 Q502.44 610.40 501.69 613.40 L500.89 625.40 Q500.14 628.40 497.14 628.40 H473.74 Q470.74 628.40 469.99 625.40 L469.19 613.40 Q468.44 610.40 471.44 610.40 Z" fill="url(#silver)"/><path d="M472.14 612.10 H498.74 Q501.14 612.10 500.54 614.50 L499.54 624.50 Q498.94 626.90 496.54 626.90 H474.34 Q471.94 626.90 471.34 624.50 L470.34 614.50 Q469.74 612.10 472.14 612.10 Z" fill="#f3d22e"/><circle cx="475.14" cy="615.00" r="1.3" fill="#1e1905"/><circle cx="480.14" cy="615.00" r="1.3" fill="#1e1905"/><circle cx="485.14" cy="615.00" r="1.3" fill="#1e1905"/><circle cx="490.14" cy="615.00" r="1.3" fill="#1e1905"/><circle cx="495.14" cy="615.00" r="1.3" fill="#1e1905"/><circle cx="477.24" cy="619.45" r="1.3" fill="#1e1905"/><circle cx="482.24" cy="619.45" r="1.3" fill="#1e1905"/><circle cx="487.24" cy="619.45" r="1.3" fill="#1e1905"/><circle cx="492.24" cy="619.45" r="1.3" fill="#1e1905"/><circle cx="497.24" cy="619.45" r="1.3" fill="#1e1905"/><circle cx="475.14" cy="623.90" r="1.3" fill="#1e1905"/><circle cx="480.14" cy="623.90" r="1.3" fill="#1e1905"/><circle cx="485.14" cy="623.90" r="1.3" fill="#1e1905"/><circle cx="490.14" cy="623.90" r="1.3" fill="#1e1905"/><circle cx="495.14" cy="623.90" r="1.3" fill="#1e1905"/>
<text transform="translate(478.04,635.20) skewX(-14)" x="0.4" y="0" font-size="4.7" fill="#9c9c9c" textLength="6" lengthAdjust="spacingAndGlyphs">PC</text>
<text transform="translate(488.04,635.20) skewX(-14)" x="0.2" y="0" font-size="4.7" fill="#9c9c9c" textLength="3.2" lengthAdjust="spacingAndGlyphs">4</text>
<rect x="523.1" y="616.4" width="42" height="6" fill="#a8a8a8"/><circle cx="523.05" cy="619.4" r="4" fill="#b8b8b8"/><circle cx="523.05" cy="619.4" r="2.5" fill="#e2e2e2"/><circle cx="523.05" cy="619.6" r="1.2" fill="#a4a4a4"/><circle cx="565.15" cy="619.4" r="4" fill="#b8b8b8"/><circle cx="565.15" cy="619.4" r="2.5" fill="#e2e2e2"/><circle cx="565.15" cy="619.6" r="1.2" fill="#a4a4a4"/><path d="M530.10 610.40 H558.10 Q561.10 610.40 560.35 613.40 L559.55 625.40 Q558.80 628.40 555.80 628.40 H532.40 Q529.40 628.40 528.65 625.40 L527.85 613.40 Q527.10 610.40 530.10 610.40 Z" fill="url(#silver)"/><path d="M530.80 612.10 H557.40 Q559.80 612.10 559.20 614.50 L558.20 624.50 Q557.60 626.90 555.20 626.90 H533.00 Q530.60 626.90 530.00 624.50 L529.00 614.50 Q528.40 612.10 530.80 612.10 Z" fill="#f3d22e"/><circle cx="533.80" cy="615.00" r="1.3" fill="#1e1905"/><circle cx="538.80" cy="615.00" r="1.3" fill="#1e1905"/><circle cx="543.80" cy="615.00" r="1.3" fill="#1e1905"/><circle cx="548.80" cy="615.00" r="1.3" fill="#1e1905"/><circle cx="553.80" cy="615.00" r="1.3" fill="#1e1905"/><circle cx="535.90" cy="619.45" r="1.3" fill="#1e1905"/><circle cx="540.90" cy="619.45" r="1.3" fill="#1e1905"/><circle cx="545.90" cy="619.45" r="1.3" fill="#1e1905"/><circle cx="550.90" cy="619.45" r="1.3" fill="#1e1905"/><circle cx="555.90" cy="619.45" r="1.3" fill="#1e1905"/><circle cx="533.80" cy="623.90" r="1.3" fill="#1e1905"/><circle cx="538.80" cy="623.90" r="1.3" fill="#1e1905"/><circle cx="543.80" cy="623.90" r="1.3" fill="#1e1905"/><circle cx="548.80" cy="623.90" r="1.3" fill="#1e1905"/><circle cx="553.80" cy="623.90" r="1.3" fill="#1e1905"/>
<text transform="translate(536.70,635.20) skewX(-14)" x="0.4" y="0" font-size="4.7" fill="#9c9c9c" textLength="6" lengthAdjust="spacingAndGlyphs">PC</text>
<text transform="translate(546.70,635.20) skewX(-14)" x="0.2" y="0" font-size="4.7" fill="#9c9c9c" textLength="3.1" lengthAdjust="spacingAndGlyphs">3</text>
<rect x="581.8" y="616.4" width="42" height="6" fill="#a8a8a8"/><circle cx="581.71" cy="619.4" r="4" fill="#b8b8b8"/><circle cx="581.71" cy="619.4" r="2.5" fill="#e2e2e2"/><circle cx="581.71" cy="619.6" r="1.2" fill="#a4a4a4"/><circle cx="623.81" cy="619.4" r="4" fill="#b8b8b8"/><circle cx="623.81" cy="619.4" r="2.5" fill="#e2e2e2"/><circle cx="623.81" cy="619.6" r="1.2" fill="#a4a4a4"/><path d="M588.76 610.40 H616.76 Q619.76 610.40 619.01 613.40 L618.21 625.40 Q617.46 628.40 614.46 628.40 H591.06 Q588.06 628.40 587.31 625.40 L586.51 613.40 Q585.76 610.40 588.76 610.40 Z" fill="url(#silver)"/><path d="M589.46 612.10 H616.06 Q618.46 612.10 617.86 614.50 L616.86 624.50 Q616.26 626.90 613.86 626.90 H591.66 Q589.26 626.90 588.66 624.50 L587.66 614.50 Q587.06 612.10 589.46 612.10 Z" fill="#f3d22e"/><circle cx="592.46" cy="615.00" r="1.3" fill="#1e1905"/><circle cx="597.46" cy="615.00" r="1.3" fill="#1e1905"/><circle cx="602.46" cy="615.00" r="1.3" fill="#1e1905"/><circle cx="607.46" cy="615.00" r="1.3" fill="#1e1905"/><circle cx="612.46" cy="615.00" r="1.3" fill="#1e1905"/><circle cx="594.56" cy="619.45" r="1.3" fill="#1e1905"/><circle cx="599.56" cy="619.45" r="1.3" fill="#1e1905"/><circle cx="604.56" cy="619.45" r="1.3" fill="#1e1905"/><circle cx="609.56" cy="619.45" r="1.3" fill="#1e1905"/><circle cx="614.56" cy="619.45" r="1.3" fill="#1e1905"/><circle cx="592.46" cy="623.90" r="1.3" fill="#1e1905"/><circle cx="597.46" cy="623.90" r="1.3" fill="#1e1905"/><circle cx="602.46" cy="623.90" r="1.3" fill="#1e1905"/><circle cx="607.46" cy="623.90" r="1.3" fill="#1e1905"/><circle cx="612.46" cy="623.90" r="1.3" fill="#1e1905"/>
<text transform="translate(595.36,635.20) skewX(-14)" x="0.4" y="0" font-size="4.7" fill="#9c9c9c" textLength="6" lengthAdjust="spacingAndGlyphs">PC</text>
<text transform="translate(605.36,635.20) skewX(-14)" x="0.2" y="0" font-size="4.7" fill="#9c9c9c" textLength="3.1" lengthAdjust="spacingAndGlyphs">2</text>
<rect x="640.4" y="616.4" width="42" height="6" fill="#a8a8a8"/><circle cx="640.37" cy="619.4" r="4" fill="#b8b8b8"/><circle cx="640.37" cy="619.4" r="2.5" fill="#e2e2e2"/><circle cx="640.37" cy="619.6" r="1.2" fill="#a4a4a4"/><circle cx="682.47" cy="619.4" r="4" fill="#b8b8b8"/><circle cx="682.47" cy="619.4" r="2.5" fill="#e2e2e2"/><circle cx="682.47" cy="619.6" r="1.2" fill="#a4a4a4"/><path d="M647.42 610.40 H675.42 Q678.42 610.40 677.67 613.40 L676.87 625.40 Q676.12 628.40 673.12 628.40 H649.72 Q646.72 628.40 645.97 625.40 L645.17 613.40 Q644.42 610.40 647.42 610.40 Z" fill="url(#silver)"/><path d="M648.12 612.10 H674.72 Q677.12 612.10 676.52 614.50 L675.52 624.50 Q674.92 626.90 672.52 626.90 H650.32 Q647.92 626.90 647.32 624.50 L646.32 614.50 Q645.72 612.10 648.12 612.10 Z" fill="#f3d22e"/><circle cx="651.12" cy="615.00" r="1.3" fill="#1e1905"/><circle cx="656.12" cy="615.00" r="1.3" fill="#1e1905"/><circle cx="661.12" cy="615.00" r="1.3" fill="#1e1905"/><circle cx="666.12" cy="615.00" r="1.3" fill="#1e1905"/><circle cx="671.12" cy="615.00" r="1.3" fill="#1e1905"/><circle cx="653.22" cy="619.45" r="1.3" fill="#1e1905"/><circle cx="658.22" cy="619.45" r="1.3" fill="#1e1905"/><circle cx="663.22" cy="619.45" r="1.3" fill="#1e1905"/><circle cx="668.22" cy="619.45" r="1.3" fill="#1e1905"/><circle cx="673.22" cy="619.45" r="1.3" fill="#1e1905"/><circle cx="651.12" cy="623.90" r="1.3" fill="#1e1905"/><circle cx="656.12" cy="623.90" r="1.3" fill="#1e1905"/><circle cx="661.12" cy="623.90" r="1.3" fill="#1e1905"/><circle cx="666.12" cy="623.90" r="1.3" fill="#1e1905"/><circle cx="671.12" cy="623.90" r="1.3" fill="#1e1905"/>
<text transform="translate(654.02,635.20) skewX(-14)" x="0.4" y="0" font-size="4.7" fill="#9c9c9c" textLength="6" lengthAdjust="spacingAndGlyphs">PC</text>
<text transform="translate(664.02,635.20) skewX(-14)" x="0.3" y="0" font-size="4.7" fill="#9c9c9c" textLength="3" lengthAdjust="spacingAndGlyphs">1</text>
<text x="179.4" y="605.9" font-size="4.5" fill="#9a9a9a" textLength="11.2" lengthAdjust="spacingAndGlyphs">VGA</text>
<text x="194.5" y="605.9" font-size="4.5" fill="#9a9a9a" textLength="11.1" lengthAdjust="spacingAndGlyphs">OUT</text>
<text x="179.4" y="635.2" font-size="4.5" fill="#9a9a9a" textLength="11.2" lengthAdjust="spacingAndGlyphs">VGA</text>
<text x="194.5" y="635.2" font-size="4.5" fill="#9a9a9a" textLength="11.1" lengthAdjust="spacingAndGlyphs">OUT</text>
</g>
<rect x="119.9" y="934.9" width="21.9" height="21" fill="#050505"/>
<text x="122.3" y="951.8" font-size="17" font-weight="bold" fill="#fff">注</text>
<text x="149.6" y="952" font-size="17.5" fill="#262626" textLength="436" lengthAdjust="spacing">USB实时在线，秒切换，不丢失，提高USB连接稳定性，</text>
<text x="216.3" y="984" font-size="17.5" fill="#262626" textLength="286.5" lengthAdjust="spacing">不会因为切换导致USB处于断开状态</text>
</svg>
</body>
</html>
